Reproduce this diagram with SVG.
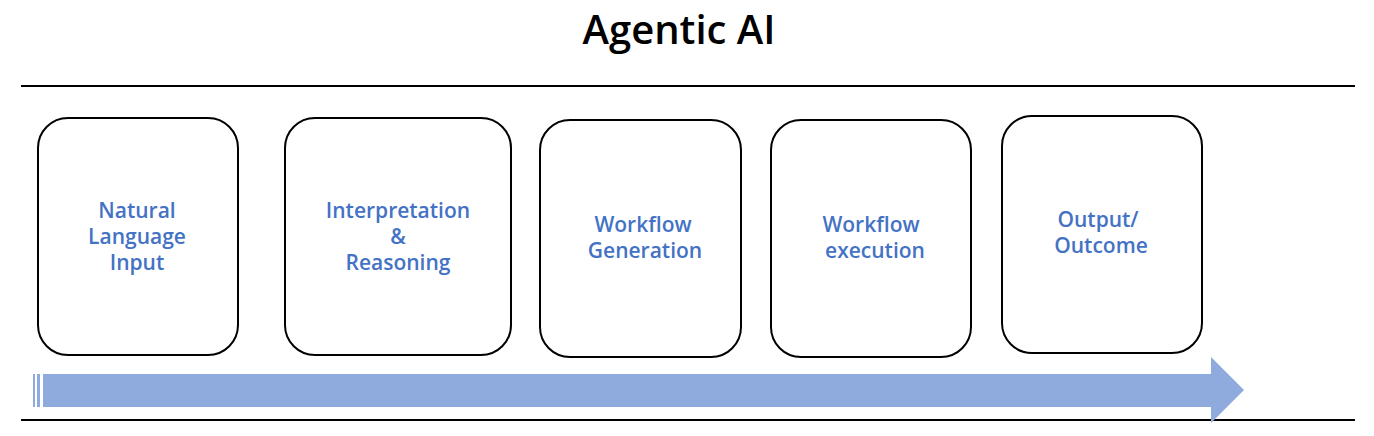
<svg xmlns="http://www.w3.org/2000/svg" width="1374" height="436" viewBox="0 0 1374 436">
<style>
.box{fill:#fff;stroke:#000;stroke-width:2}
.lbl{font-family:"Open Sans","Liberation Sans",sans-serif;font-size:21px;font-weight:600;fill:#4472c4;text-anchor:middle}
.title{font-family:"Open Sans","Liberation Sans",sans-serif;font-size:40px;font-weight:600;fill:#000;text-anchor:middle}
.rule{stroke:#000;stroke-width:2}
</style>
<rect width="1374" height="436" fill="#fff"/>
<text class="title" x="679" y="44">Agentic AI</text>
<line class="rule" x1="21" y1="86" x2="1355" y2="86"/>
<line class="rule" x1="21" y1="420" x2="1355" y2="420"/>
<g id="n1"><rect class="box" x="38" y="118" width="200" height="237" rx="30"/>
<text class="lbl" x="137" y="218">Natural</text><text class="lbl" x="137" y="244">Language</text><text class="lbl" x="137" y="270">Input</text></g>
<g id="n2"><rect class="box" x="285" y="118" width="226" height="237" rx="30"/>
<text class="lbl" x="398" y="218">Interpretation</text><text class="lbl" x="398" y="244">&amp;</text><text class="lbl" x="398" y="270">Reasoning</text></g>
<g id="n3"><rect class="box" x="540" y="120" width="201" height="237" rx="30"/>
<text class="lbl" x="643" y="232">Workflow</text><text class="lbl" x="645" y="258">Generation</text></g>
<g id="n4"><rect class="box" x="771" y="120" width="200" height="237" rx="30"/>
<text class="lbl" x="871" y="232">Workflow</text><text class="lbl" x="875" y="258">execution</text></g>
<g id="n5"><rect class="box" x="1002" y="116" width="200" height="237" rx="30"/>
<text class="lbl" x="1098" y="227">Output/</text><text class="lbl" x="1101" y="253">Outcome</text></g>
<g id="connectors">
<rect x="33" y="374" width="2" height="33" fill="#8faadc"/>
<rect x="37" y="374" width="3" height="33" fill="#8faadc"/>
<polygon points="43,374 1211,374 1211,357 1244,390 1211,423 1211,407 43,407" fill="#8faadc"/>
</g>
</svg>
